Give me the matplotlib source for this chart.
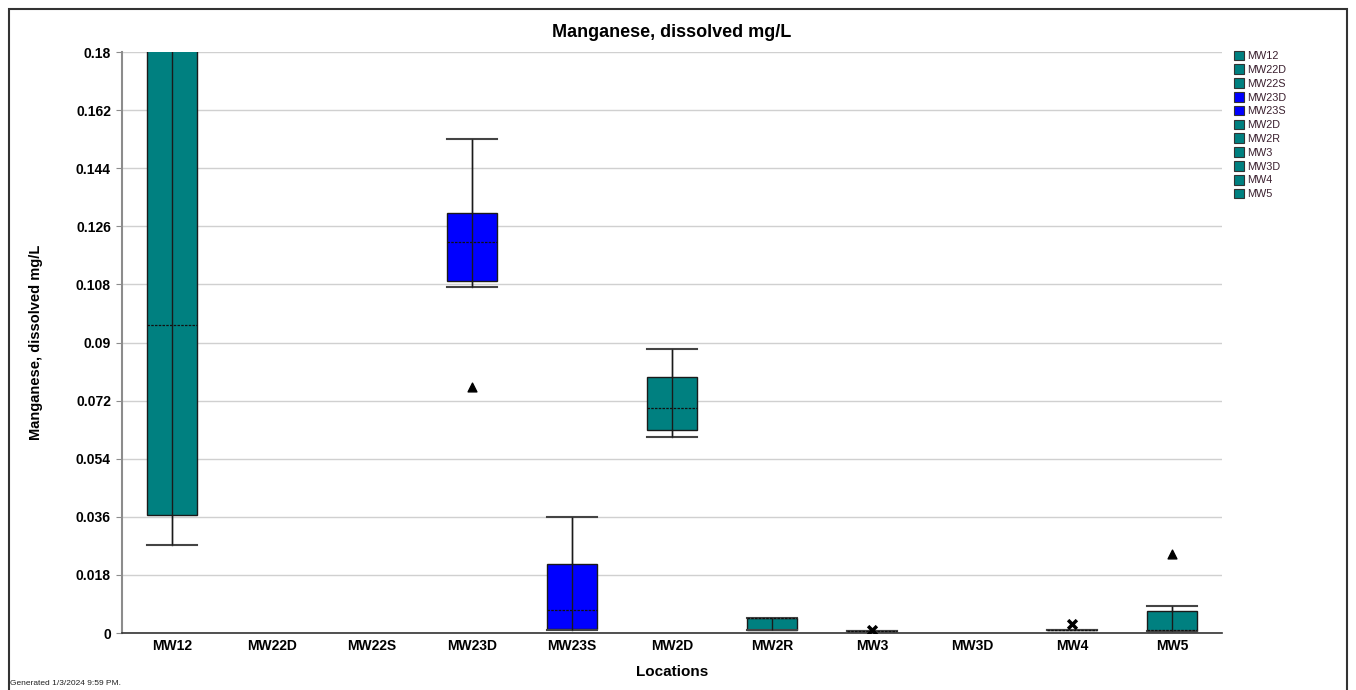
import matplotlib
matplotlib.use("Agg")
from matplotlib import pyplot as plt
from matplotlib.patches import Patch, Rectangle
from matplotlib.ticker import FuncFormatter
import numpy as np

plt.rcParams['font.family'] = ['Liberation Sans', 'DejaVu Sans']

locations = ['MW12', 'MW22D', 'MW22S', 'MW23D', 'MW23S', 'MW2D', 'MW2R', 'MW3', 'MW3D', 'MW4', 'MW5']
colors = ['#008080', '#008080', '#008080', '#0000ff', '#0000ff', '#008080',
          '#008080', '#008080', '#008080', '#008080', '#008080']

# box stats per location (None = no data), mg/L
whislo = [0.0273, None, None, 0.1072, 0.0009, 0.0607, 0.0009, 0.0006, None, 0.0010, 0.0006]
q1 = [0.0366, None, None, 0.1090, 0.0012, 0.0629, 0.0009, 0.0006, None, 0.0010, 0.0006]
med = [0.0954, None, None, 0.1211, 0.0071, 0.0697, 0.0046, 0.0006, None, 0.0010, 0.0010]
q3 = [0.1950, None, None, 0.1300, 0.0214, 0.0793, 0.0046, 0.0006, None, 0.0010, 0.0068]
whishi = [0.2200, None, None, 0.1530, 0.0359, 0.0880, 0.0046, 0.0006, None, 0.0010, 0.0084]

# triangle points (outliers) and x points
outlier_idx = [3, 10]
outlier_val = [0.0762, 0.0245]
xmark_idx = [7, 9]
xmark_val = [0.0008, 0.0028]

fig = plt.figure(figsize=(13.56, 6.9), dpi=100)
ax = fig.add_axes([0.09, 0.0826, 0.8112, 0.842])

stats = []
pos = []
box_colors = []
for i in range(len(locations)):
    if med[i] is None:
        continue
    stats.append({'whislo': whislo[i], 'q1': q1[i], 'med': med[i], 'q3': q3[i],
                  'whishi': whishi[i], 'fliers': [], 'label': locations[i]})
    pos.append(i)
    box_colors.append(colors[i])

res = ax.bxp(stats, positions=pos, widths=0.5, patch_artist=True, showfliers=False,
             capwidths=0.5,
             boxprops=dict(edgecolor='#1a1a1a', linewidth=1.0),
             medianprops=dict(color='#111111', linestyle=(0, (2, 1)), linewidth=0.9),
             whiskerprops=dict(color='#222222', linewidth=1.0),
             capprops=dict(color='#444444', linewidth=1.5), zorder=3)
for patch, c in zip(res['boxes'], box_colors):
    patch.set_facecolor(c)

# whisker line drawn through the box
for s, p in zip(stats, pos):
    ax.vlines(p, s['whislo'], s['whishi'], color='#1a1a1a', linewidth=1.0, zorder=4)

ax.scatter(outlier_idx, outlier_val, marker='^', color='black', s=40, zorder=5)
ax.scatter(xmark_idx, xmark_val, marker='x', color='black', s=40, linewidths=2.5, zorder=5)

ax.set_xlim(-0.5, len(locations) - 0.5)
ax.set_ylim(0, 0.18)
yticks = np.round(np.arange(0, 0.1801, 0.018), 3)
ax.set_yticks(yticks)
ax.yaxis.set_major_formatter(FuncFormatter(lambda v, p: '0' if v == 0 else ('%g' % round(v, 3))))
ax.set_xticks(range(len(locations)))
ax.set_xticklabels(locations)
ax.grid(axis='y', color='#d0d0d0', linewidth=1.0, zorder=0)
ax.set_axisbelow(True)

for sp in ['top', 'right']:
    ax.spines[sp].set_visible(False)
ax.spines['left'].set_color('#8c8c8c')
ax.spines['left'].set_linewidth(1.5)
ax.spines['bottom'].set_color('#333333')
ax.spines['bottom'].set_linewidth(1.2)
ax.tick_params(axis='y', length=4, color='#8c8c8c', labelsize=10, pad=4)
ax.tick_params(axis='x', length=0, labelsize=10, pad=4)
for lbl in ax.get_xticklabels() + ax.get_yticklabels():
    lbl.set_fontweight('bold')

ax.set_title('Manganese, dissolved mg/L', fontsize=13, fontweight='bold', pad=11)
ax.set_xlabel('Locations', fontsize=11, fontweight='bold', labelpad=9)
ax.set_ylabel('Manganese, dissolved mg/L', fontsize=10.5, fontweight='bold', labelpad=24)

handles = [Patch(facecolor=c, edgecolor='#333333', linewidth=0.8) for c in colors]
ax.legend(handles, locations, loc='upper left', bbox_to_anchor=(1.0065, 1.01),
          frameon=False, fontsize=7.8, handlelength=1.0, handleheight=1.0,
          handletextpad=0.3, labelspacing=0.3, borderaxespad=0, labelcolor='#3a1f2e')

fig.text(0.0074, 0.0075, 'Generated 1/3/2024 9:59 PM.', fontsize=6, color='#222222')
fig.patches.append(Rectangle((0.0066, -0.01), 0.9868, 0.997, transform=fig.transFigure,
                             fill=False, edgecolor='#333333', linewidth=1.5))

fig.savefig('out.png', dpi=100)
